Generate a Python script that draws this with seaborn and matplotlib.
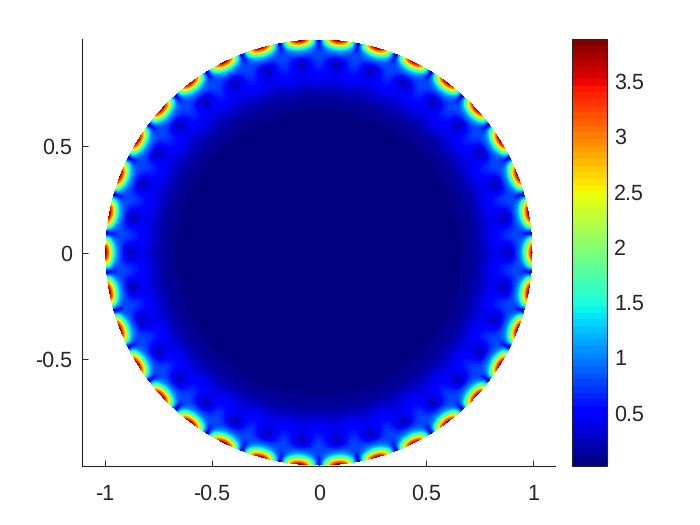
import matplotlib
matplotlib.use("Agg")
import matplotlib.pyplot as plt
import numpy as np
import seaborn as sns
from matplotlib.transforms import ScaledTranslation

# radial profiles (along a lobe centre / along a notch)
radius = [0.0, 0.4, 0.6, 0.66, 0.70, 0.74, 0.78, 0.82, 0.85, 0.87, 0.89, 0.905, 0.92, 0.94, 0.95, 0.96, 0.97, 0.98, 0.99, 1.0]
lobe_value = [0.03, 0.04, 0.05, 0.06, 0.09, 0.16, 0.28, 0.40, 0.38, 0.30, 0.22, 0.36, 0.62, 0.95, 1.20, 1.55, 2.05, 2.70, 3.30, 3.85]
notch_value = [0.03, 0.04, 0.05, 0.06, 0.09, 0.16, 0.32, 0.46, 0.56, 0.63, 0.70, 0.74, 0.76, 0.76, 0.72, 0.64, 0.54, 0.42, 0.30, 0.16]
lobe_sharpness = [2.2, 2.2, 2.2, 2.2, 2.2, 2.2, 2.2, 2.2, 2.2, 2.2, 2.2, 2.2, 2, 1.7, 1.5, 1.3, 1.1, 1, 1, 1]
n_lobes = 34

x_ticks = [-1, -0.5, 0, 0.5, 1]
x_labels = ["-1", "-0.5", "0", "0.5", "1"]
y_ticks = [-0.5, 0, 0.5]
y_labels = ["-0.5", "0", "0.5"]
cbar_ticks = [0.5, 1, 1.5, 2, 2.5, 3, 3.5]
cbar_labels = ["0.5", "1", "1.5", "2", "2.5", "3", "3.5"]

sns.set_style("ticks")
plt.rcParams["font.family"] = ["Liberation Sans", "DejaVu Sans"]
plt.rcParams["text.hinting"] = "no_hinting"
dark = "#262626"

# pixel sized grid over the axes area
x_min, x_max = -1.107, 1.103
y_min, y_max = -1.0, 1.0
nx, ny = 473, 427
x = np.linspace(x_min, x_max, nx)
y = np.linspace(y_max, y_min, ny)
xx, yy = np.meshgrid(x, y)
r = np.hypot(xx, yy)
theta = np.arctan2(yy, xx)

w = np.abs(np.cos(n_lobes / 2 * theta)) ** np.interp(r, radius, lobe_sharpness)
lobe = np.interp(r, radius, lobe_value)
notch = np.interp(r, radius, notch_value)
field = notch + (lobe - notch) * w

fig = plt.figure(figsize=(7, 5.25), dpi=100)
ax = fig.add_axes([82 / 700, 1 - 466 / 525, (555 - 82) / 700, (466 - 39) / 525])
cax = fig.add_axes([572 / 700, 1 - 466 / 525, 35 / 700, (466 - 39) / 525])

jet = plt.get_cmap("jet").resampled(64)
sns.heatmap(field, mask=r > 1, cmap=jet, vmin=0.01, vmax=3.87, ax=ax, cbar_ax=cax,
            xticklabels=False, yticklabels=False, rasterized=True)

ax.set_xticks([(t - x_min) / (x_max - x_min) * nx for t in x_ticks])
ax.set_xticklabels(x_labels, rotation=0)
ax.set_yticks([(y_max - t) / (y_max - y_min) * ny for t in y_ticks])
ax.set_yticklabels(y_labels, rotation=0)
ax.tick_params(direction="in", length=4, width=0.7, color=dark, labelcolor=dark, labelsize=15.5, pad=7)
ax.tick_params(axis="x", pad=13)
for side in ["left", "bottom"]:
    ax.spines[side].set_visible(True)
    ax.spines[side].set_linewidth(0.8)
    ax.spines[side].set_color(dark)

cb = ax.collections[0].colorbar
cb.set_ticks(cbar_ticks)
cb.set_ticklabels(cbar_labels)
cb.outline.set_visible(True)
cb.outline.set_linewidth(0.8)
cb.outline.set_edgecolor(dark)
cax.tick_params(direction="in", length=3, width=0.7, color=dark, labelcolor=dark, labelsize=15.5, pad=5)

# colorbar labels sit a little below their ticks in the original
down = ScaledTranslation(0, -1 / 100, fig.dpi_scale_trans)
for lab in cax.get_yticklabels():
    lab.set_transform(lab.get_transform() + down)

fig.savefig("out.png", dpi=100)
